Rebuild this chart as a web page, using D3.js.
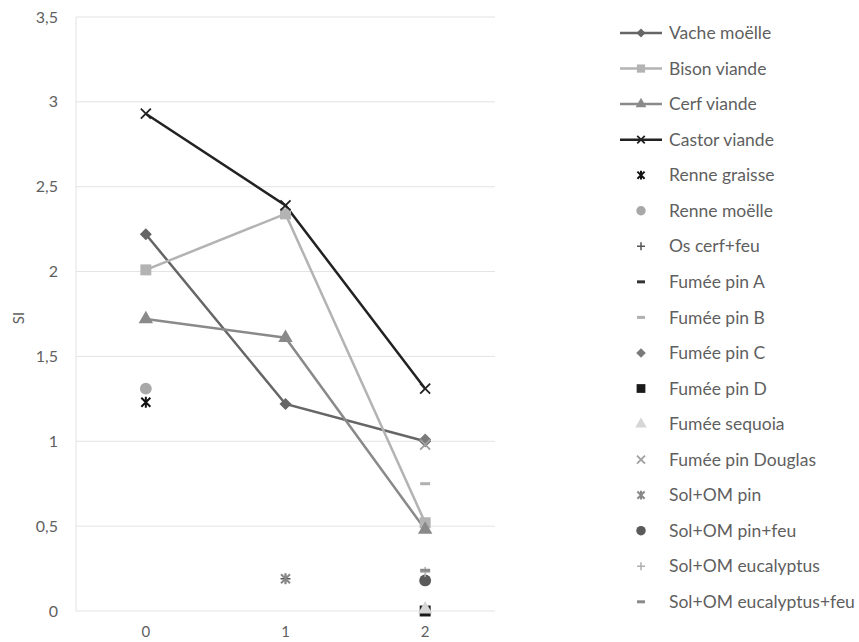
<!DOCTYPE html>
<html><head><meta charset="utf-8">
<script src="https://cdn.jsdelivr.net/npm/d3@7"></script>
<style>body{margin:0;background:#fff;} text{font-family:Lato,"Open Sans",sans-serif;}</style>
</head><body><svg id="c" width="859" height="642"></svg>
<script>
const categories = ["0","1","2"];
const yTicks = [0,0.5,1,1.5,2,2.5,3,3.5];
// line series
const vacheMoelle = [2.22,1.22,1.00];
const bisonViande = [2.01,2.34,0.52];
const cerfViande = [1.72,1.61,0.48];
const castorViande = [2.93,2.39,1.31];
// point series: [category, value]
const renneGraisse = [["0",1.23]];
const renneMoelle = [["0",1.31]];
const osCerfFeu = [["1",0.19]];
const fumeePinA = [["2",0.00]];
const fumeePinB = [["2",0.75]];
const fumeePinC = [["2",1.01]];
const fumeePinD = [["2",0.00]];
const fumeeSequoia = [["2",0.01]];
const fumeePinDouglas = [["2",0.98]];
const solOMPin = [["1",0.19]];
const solOMPinFeu = [["2",0.18]];
const solOMEucalyptus = [["2",0.23]];
const solOMEucalyptusFeu = [["2",0.24]];

const lineSeries = [
 {name:"Vache moëlle", data:vacheMoelle, color:"#666666", marker:"diamond"},
 {name:"Bison viande", data:bisonViande, color:"#b3b3b3", marker:"square"},
 {name:"Cerf viande", data:cerfViande, color:"#8a8a8a", marker:"triangle"},
 {name:"Castor viande", data:castorViande, color:"#222222", marker:"x"},
];
const pointSeries = [
 {name:"Renne graisse", data:renneGraisse, color:"#111111", marker:"star"},
 {name:"Renne moëlle", data:renneMoelle, color:"#a8a8a8", marker:"circle"},
 {name:"Os cerf+feu", data:osCerfFeu, color:"#555555", marker:"plus"},
 {name:"Fumée pin A", data:fumeePinA, color:"#333333", marker:"dash"},
 {name:"Fumée pin B", data:fumeePinB, color:"#b0b0b0", marker:"dash"},
 {name:"Fumée pin C", data:fumeePinC, color:"#7a7a7a", marker:"diamond"},
 {name:"Fumée pin D", data:fumeePinD, color:"#1a1a1a", marker:"square"},
 {name:"Fumée sequoia", data:fumeeSequoia, color:"#d6d6d6", marker:"triangle"},
 {name:"Fumée pin Douglas", data:fumeePinDouglas, color:"#a0a0a0", marker:"x"},
 {name:"Sol+OM pin", data:solOMPin, color:"#888888", marker:"star"},
 {name:"Sol+OM pin+feu", data:solOMPinFeu, color:"#5a5a5a", marker:"circle"},
 {name:"Sol+OM eucalyptus", data:solOMEucalyptus, color:"#b0b0b0", marker:"plus"},
 {name:"Sol+OM eucalyptus+feu", data:solOMEucalyptusFeu, color:"#8a8a8a", marker:"dash"},
];

const svg = d3.select("#c");
const plot = {left:76, right:495, top:17, bottom:611};
const x = d3.scaleBand().domain(categories).range([plot.left, plot.right]);
const y = d3.scaleLinear().domain([0,3.5]).range([plot.bottom, plot.top]);
const cx = c => x(c) + x.bandwidth()/2;
const fmt = v => d3.format("")(v).replace(".", ",");

// grid
svg.append("g").selectAll("line").data(yTicks).join("line")
  .attr("x1",plot.left).attr("x2",plot.right)
  .attr("y1",d=>y(d)).attr("y2",d=>y(d))
  .attr("stroke","#e3e3e3").attr("stroke-width",1);
svg.append("line").attr("x1",plot.left).attr("x2",plot.left)
  .attr("y1",plot.top).attr("y2",plot.bottom).attr("stroke","#e3e3e3");

// axes
const yAxis = svg.append("g").attr("transform",`translate(${plot.left},0)`)
  .call(d3.axisLeft(y).tickValues(yTicks).tickFormat(fmt).tickSize(0).tickPadding(18));
yAxis.select(".domain").remove();
yAxis.selectAll("text").attr("fill","#5f5f5f").style("font-size","16px");
const xAxis = svg.append("g").attr("transform",`translate(0,${plot.bottom})`)
  .call(d3.axisBottom(x).tickSize(0).tickPadding(15));
xAxis.select(".domain").remove();
xAxis.selectAll("text").attr("fill","#5f5f5f").style("font-size","15px");
svg.append("text").attr("transform","translate(19,318) rotate(-90)")
  .attr("text-anchor","middle").attr("dy","0.35em").attr("fill","#5f5f5f").style("font-size","15px").text("SI");

function drawMarker(g, type, color, s) {
  s = s || 1;
  if (type==="diamond") g.append("path").attr("d",`M0,${-6*s}L${6*s},0L0,${6*s}L${-6*s},0Z`).attr("fill",color);
  else if (type==="square") g.append("path").attr("d", d3.symbol(d3.symbolSquare, 120*s*s)()).attr("fill",color);
  else if (type==="triangle") g.append("path").attr("d", d3.symbol(d3.symbolTriangle, 90*s*s)()).attr("fill",color);
  else if (type==="circle") g.append("path").attr("d", d3.symbol(d3.symbolCircle, 110*s*s)()).attr("fill",color);
  else if (type==="x") g.append("path").attr("d",`M${-5*s},${-5*s}L${5*s},${5*s}M${-5*s},${5*s}L${5*s},${-5*s}`).attr("stroke",color).attr("stroke-width",1.8).attr("fill","none");
  else if (type==="star") g.append("path").attr("d",`M${-4.5*s},${-4.5*s}L${4.5*s},${4.5*s}M${-4.5*s},${4.5*s}L${4.5*s},${-4.5*s}M0,${-5.5*s}L0,${5.5*s}`).attr("stroke",color).attr("stroke-width",2).attr("fill","none");
  else if (type==="plus") g.append("path").attr("d",`M${-5*s},0L${5*s},0M0,${-5*s}L0,${5*s}`).attr("stroke",color).attr("stroke-width",1.5).attr("fill","none");
  else if (type==="dash") g.append("path").attr("d",`M${-5*s},0L${5*s},0`).attr("stroke",color).attr("stroke-width",3).attr("fill","none");
}

// lines
const line = d3.line().x((d,i)=>cx(categories[i])).y(d=>y(d));
lineSeries.forEach(s=>{
  svg.append("path").datum(s.data).attr("d",line).attr("fill","none")
    .attr("stroke",s.color).attr("stroke-width",2.5);
});
lineSeries.forEach(s=>{
  s.data.forEach((v,i)=>{
    const g = svg.append("g").attr("transform",`translate(${cx(categories[i])},${y(v)})`);
    drawMarker(g, s.marker, s.color);
  });
});
// points
pointSeries.forEach(s=>{
  s.data.forEach(([c,v])=>{
    const g = svg.append("g").attr("transform",`translate(${cx(c)},${y(v)})`);
    drawMarker(g, s.marker, s.color);
  });
});

// legend
const all = lineSeries.map(d=>({...d,isLine:true})).concat(pointSeries);
const lg = svg.append("g");
all.forEach((s,i)=>{
  const yy = 33 + i*35.55;
  const g = lg.append("g").attr("transform",`translate(641,${yy})`);
  if (s.isLine) g.append("line").attr("x1",-21).attr("x2",21).attr("stroke",s.color).attr("stroke-width",2.5);
  drawMarker(g, s.marker, s.color, s.isLine ? 0.75 : 0.8);
  lg.append("text").attr("x",669).attr("y",yy).attr("dy","0.35em")
    .attr("fill","#5f5f5f").style("font-size","17.5px").text(s.name);
});
</script></body></html>
